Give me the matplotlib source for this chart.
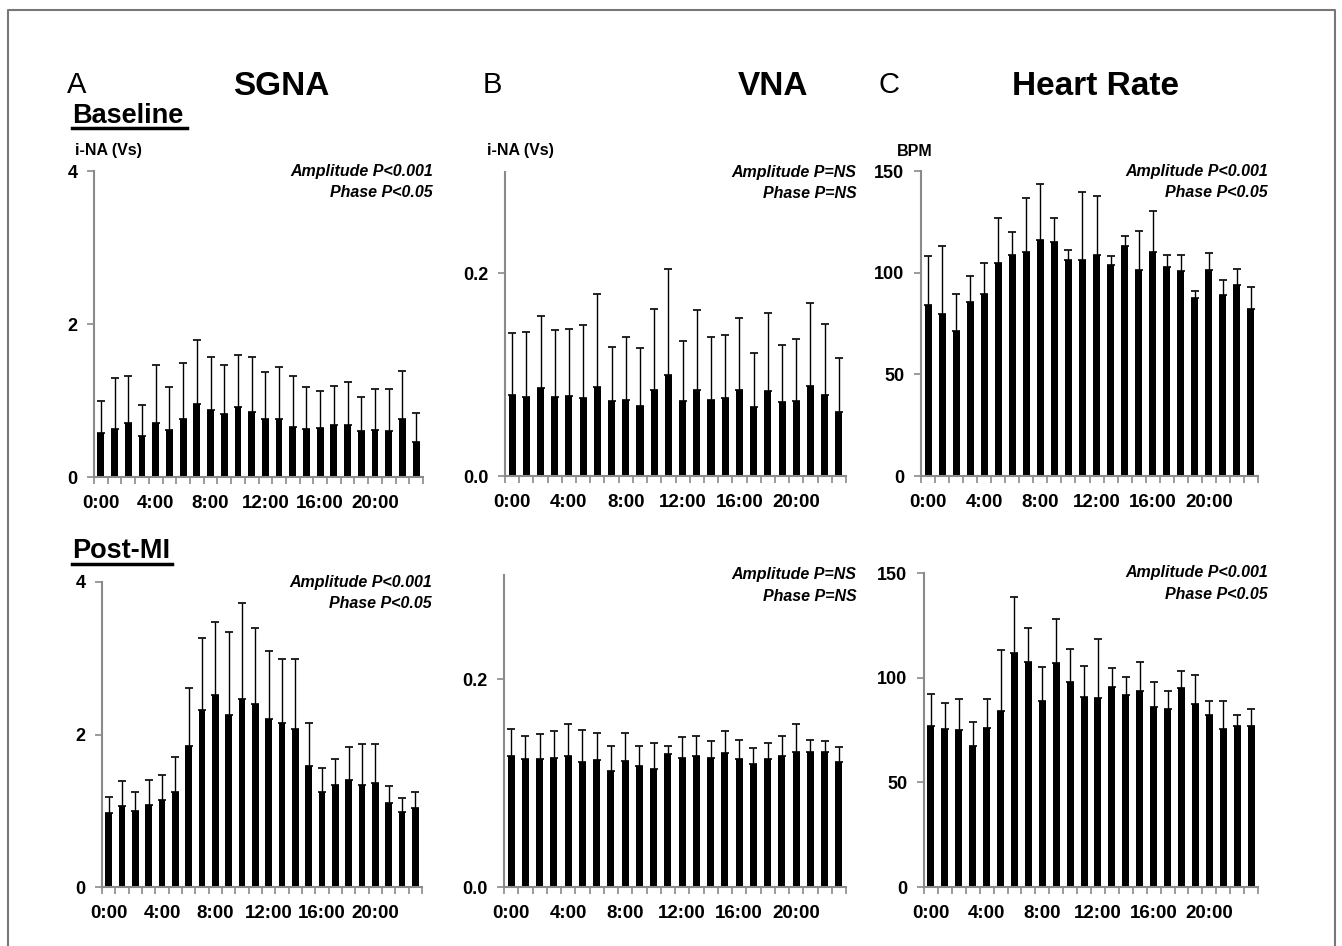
import numpy as np
import matplotlib
matplotlib.use("Agg")
import matplotlib.pyplot as plt
from matplotlib.lines import Line2D

plt.rcParams['font.family'] = ['Liberation Sans', 'DejaVu Sans']

hours = np.arange(24)
hour_labels = ["0:00", "4:00", "8:00", "12:00", "16:00", "20:00"]

# Baseline
sgna_base = [0.58, 0.63, 0.70, 0.53, 0.71, 0.61, 0.76, 0.95, 0.88, 0.83, 0.92, 0.85,
             0.76, 0.76, 0.66, 0.63, 0.64, 0.68, 0.68, 0.60, 0.61, 0.60, 0.76, 0.46]
sgna_base_err = [0.41, 0.66, 0.62, 0.41, 0.76, 0.56, 0.73, 0.84, 0.69, 0.64, 0.68, 0.72,
                 0.61, 0.68, 0.66, 0.54, 0.48, 0.51, 0.56, 0.44, 0.54, 0.55, 0.62, 0.38]
vna_base = [0.080, 0.078, 0.087, 0.078, 0.079, 0.077, 0.088, 0.074, 0.075, 0.069, 0.085, 0.100,
            0.074, 0.085, 0.075, 0.077, 0.085, 0.068, 0.084, 0.073, 0.074, 0.089, 0.080, 0.063]
vna_base_err = [0.061, 0.064, 0.071, 0.066, 0.066, 0.072, 0.092, 0.053, 0.062, 0.057, 0.080, 0.104,
                0.059, 0.079, 0.062, 0.062, 0.071, 0.053, 0.077, 0.056, 0.061, 0.082, 0.070, 0.053]
hr_base = [83.9, 79.5, 71.5, 85.7, 89.5, 104.6, 108.9, 110.2, 115.9, 115.1, 106.4, 106.4,
           108.9, 103.8, 113.1, 101.5, 110.2, 102.6, 100.8, 87.5, 101.5, 88.9, 93.9, 82.0]
hr_base_err = [24.1, 33.5, 18.2, 12.5, 15.4, 22.1, 11.1, 26.5, 27.9, 11.6, 4.9, 33.4,
               28.6, 4.2, 4.9, 19.2, 20.3, 5.9, 7.7, 3.6, 8.3, 7.3, 8.1, 11.1]

# Post-MI
sgna_mi = [0.97, 1.06, 1.00, 1.07, 1.14, 1.25, 1.85, 2.32, 2.52, 2.26, 2.46, 2.40,
           2.20, 2.15, 2.07, 1.59, 1.25, 1.34, 1.40, 1.34, 1.37, 1.10, 0.99, 1.04]
sgna_mi_err = [0.21, 0.33, 0.25, 0.33, 0.33, 0.46, 0.76, 0.95, 0.96, 1.09, 1.27, 1.00,
               0.89, 0.84, 0.92, 0.56, 0.31, 0.34, 0.43, 0.53, 0.50, 0.22, 0.18, 0.21]
vna_mi = [0.126, 0.123, 0.123, 0.124, 0.126, 0.120, 0.122, 0.112, 0.121, 0.116, 0.113, 0.128,
          0.124, 0.126, 0.124, 0.129, 0.123, 0.118, 0.123, 0.126, 0.130, 0.130, 0.130, 0.120]
vna_mi_err = [0.026, 0.022, 0.024, 0.026, 0.031, 0.031, 0.026, 0.024, 0.027, 0.020, 0.025, 0.008,
              0.020, 0.019, 0.016, 0.021, 0.018, 0.016, 0.015, 0.019, 0.027, 0.011, 0.010, 0.015]
hr_mi = [76.8, 75.6, 75.0, 67.2, 76.1, 84.1, 111.9, 107.6, 88.9, 107.0, 97.9, 90.8,
         90.1, 95.5, 91.9, 93.8, 85.8, 85.2, 94.9, 87.6, 82.2, 75.5, 76.8, 76.8]
hr_mi_err = [15.4, 12.3, 14.8, 11.6, 13.7, 29.0, 26.5, 16.3, 16.4, 21.0, 15.8, 14.9,
             28.4, 9.1, 8.4, 13.8, 12.0, 8.3, 8.4, 13.8, 6.5, 13.2, 5.4, 8.2]

W, H = 1342, 946
fig = plt.figure(figsize=(W / 100, H / 100), dpi=100)

GRAY = "#8a8a8a"


def panel(box, means, errs, ymax, yticks, ylabels, stats):
    l, r, t, b = box
    ax = fig.add_axes([l / W, 1 - b / H, (r - l) / W, (b - t) / H])
    ax.bar(hours, means, width=0.5, color="black")
    ax.errorbar(hours, means, yerr=[np.zeros(24), errs], fmt="none",
                ecolor="black", elinewidth=1, capsize=3, capthick=1.2)
    ax.set_xlim(-0.5, 23.5)
    ax.set_ylim(0, ymax)
    for s in ["top", "right"]:
        ax.spines[s].set_visible(False)
    for s in ["left", "bottom"]:
        ax.spines[s].set_color(GRAY)
        ax.spines[s].set_linewidth(1.5)
    ax.set_yticks(yticks)
    ax.set_yticklabels(ylabels, fontsize=13, fontweight="bold")
    ax.tick_params(axis="y", length=5, width=1.2, color=GRAY, pad=7)
    ax.set_xticks(np.arange(0, 24, 4))
    ax.set_xticklabels(hour_labels, fontsize=13.5, fontweight="bold")
    ax.set_xticks(np.arange(-0.5, 24, 1), minor=True)
    ax.tick_params(axis="x", which="major", length=0, pad=13)
    ax.tick_params(axis="x", which="minor", length=5, width=1.2, color=GRAY, direction="out")
    ax.text(1.03, 1.0, stats[0], transform=ax.transAxes, ha="right", va="center",
            fontsize=11.5, fontweight="bold", style="italic")
    ax.text(1.03, 0.93, stats[1], transform=ax.transAxes, ha="right", va="center",
            fontsize=11.5, fontweight="bold", style="italic")
    return ax


sig = ["Amplitude P<0.001", "Phase P<0.05"]
ns = ["Amplitude P=NS", "Phase P=NS"]

panel((94, 423, 171, 477), sgna_base, sgna_base_err, 4, [0, 2, 4], ["0", "2", "4"], sig)
panel((505, 846, 172, 476), vna_base, vna_base_err, 0.3, [0, 0.2], ["0.0", "0.2"], ns)
panel((921, 1258, 171, 476), hr_base, hr_base_err, 150, [0, 50, 100, 150],
      ["0", "50", "100", "150"], sig)
panel((102, 422, 582, 887), sgna_mi, sgna_mi_err, 4, [0, 2, 4], ["0", "2", "4"], sig)
panel((504, 846, 575, 887), vna_mi, vna_mi_err, 0.3, [0, 0.2], ["0.0", "0.2"], ns)
panel((924, 1258, 573, 887), hr_mi, hr_mi_err, 150, [0, 50, 100, 150],
      ["0", "50", "100", "150"], sig)


def ftext(x, y, s, **kw):
    fig.text(x / W, 1 - y / H, s, **kw)


# column headings (y = baseline)
ftext(67, 93, "A", fontsize=21, va="baseline", ha="left")
ftext(281, 95, "SGNA", fontsize=24, fontweight="bold", va="baseline", ha="center")
ftext(483, 93, "B", fontsize=21, va="baseline", ha="left")
ftext(773, 95, "VNA", fontsize=24, fontweight="bold", va="baseline", ha="center")
ftext(878, 93, "C", fontsize=21, va="baseline", ha="left")
ftext(1096, 95, "Heart Rate", fontsize=24, fontweight="bold", va="baseline", ha="center")

# row headings
ftext(72, 123, "Baseline", fontsize=19.5, fontweight="bold", va="baseline", ha="left")
ftext(72, 558, "Post-MI", fontsize=19.5, fontweight="bold", va="baseline", ha="left")
fig.add_artist(Line2D([72 / W, 187 / W], [1 - 128 / H, 1 - 128 / H], color="black", lw=2.5))
fig.add_artist(Line2D([72 / W, 172 / W], [1 - 564 / H, 1 - 564 / H], color="black", lw=2.5))

# unit labels
ftext(75, 151, "i-NA (Vs)", fontsize=11.5, fontweight="bold", va="center", ha="left")
ftext(487, 151, "i-NA (Vs)", fontsize=11.5, fontweight="bold", va="center", ha="left")
ftext(897, 151, "BPM", fontsize=11.5, fontweight="bold", va="center", ha="left")

# frame
fx = [8 / W, 8 / W, 1335 / W, 1335 / W]
fy = [0, 1 - 10 / H, 1 - 10 / H, 0]
fig.add_artist(Line2D(fx, fy, color="#777777", lw=1.5))

fig.savefig("out.png", dpi=100)
